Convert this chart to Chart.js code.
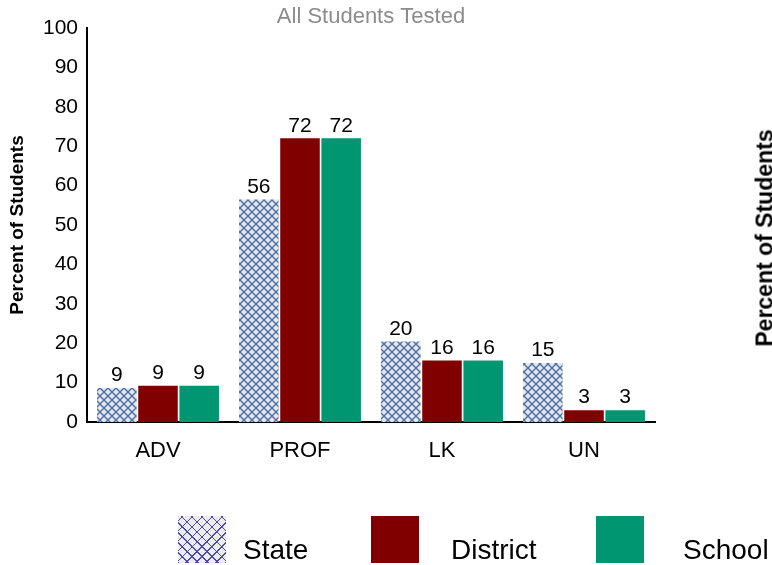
<!DOCTYPE html>
<html>
<head>
<meta charset="utf-8">
<script src="https://cdn.jsdelivr.net/npm/chart.js@4.4.1/dist/chart.umd.min.js"></script>
<style>
  body { margin: 0; overflow: hidden; background: #fff; font-family: "Liberation Sans", Arial, sans-serif; }
  #wrap { position: relative; width: 772px; height: 565px; overflow: hidden; }
  .lg-box { position: absolute; top: 516px; width: 48px; height: 47px; }
  .lg-text { position: absolute; top: 534px; line-height: 32px; font-size: 28px; color: #000; white-space: nowrap; }
  .hatch {
    background-color: #ececf0;
    background-image:
      repeating-linear-gradient(45deg, #4848b0 0 1px, transparent 1px 7px),
      repeating-linear-gradient(-45deg, #4848b0 0 1px, transparent 1px 7px);
  }
  #sideTitle {
    position: absolute; left: 765px; top: 238px;
    transform: translate(-50%, -50%) rotate(-90deg);
    font-weight: bold; font-size: 23px; white-space: nowrap; color: #000;
  }
</style>
</head>
<body>
<div id="wrap">
  <canvas id="myChart" width="772" height="565"></canvas>
  <div class="lg-box hatch" style="left:178px"></div>
  <div class="lg-text" style="left:243px">State</div>
  <div class="lg-box" style="left:371px; background:#800000"></div>
  <div class="lg-text" style="left:451px">District</div>
  <div class="lg-box" style="left:596px; background:#009672"></div>
  <div class="lg-text" style="left:683px">School</div>
  <div id="sideTitle">Percent of Students</div>
</div>
<script>
// datos
const categories = ['ADV', 'PROF', 'LK', 'UN'];
const stateValues = [8.6, 56.5, 20.4, 15];
const districtValues = [9.2, 72, 15.6, 3];
const schoolValues = [9.2, 72, 15.6, 3];
const stateLabels = ['9', '56', '20', '15'];
const districtLabels = ['9', '72', '16', '3'];
const schoolLabels = ['9', '72', '16', '3'];
const yTicks = [0, 10, 20, 30, 40, 50, 60, 70, 80, 90, 100];

// trama cruzada para la serie State
const makeHatch = () => {
    const c = document.createElement('canvas');
    c.width = 8;
    c.height = 8;
    const g = c.getContext('2d');
    g.fillStyle = '#e6e7ea';
    g.fillRect(0, 0, 8, 8);
    g.strokeStyle = '#4a70a8';
    g.lineWidth = 1.4;
    g.beginPath();
    g.moveTo(0, 0); g.lineTo(8, 8);
    g.moveTo(8, 0); g.lineTo(0, 8);
    g.stroke();
    return g.createPattern(c, 'repeat');
};

const fontFam = '"Liberation Sans", Arial, sans-serif';

// etiquetas sobre cada barra
const valueLabels = {
    id: 'valueLabels',
    afterDatasetsDraw(chart) {
        const ctx = chart.ctx;
        ctx.save();
        ctx.fillStyle = '#000';
        ctx.font = '21px ' + fontFam;
        ctx.textAlign = 'center';
        ctx.textBaseline = 'bottom';
        chart.data.datasets.forEach((ds, i) => {
            chart.getDatasetMeta(i).data.forEach((bar, j) => {
                ctx.fillText(ds.valueText[j], bar.x, bar.y - 2);
            });
        });
        ctx.restore();
    }
};

const ctx = document.getElementById('myChart').getContext('2d');
const myChart = new Chart(ctx, {
    type: 'bar',
    data: {
        labels: categories,
        datasets: [
            { label: 'State', data: stateValues, valueText: stateLabels, backgroundColor: makeHatch() },
            { label: 'District', data: districtValues, valueText: districtLabels, backgroundColor: '#800000' },
            { label: 'School', data: schoolValues, valueText: schoolLabels, backgroundColor: '#009672' }
        ]
    },
    options: {
        responsive: false,
        animation: false,
        layout: { padding: { left: 0, right: 117, top: 0, bottom: 0 } },
        categoryPercentage: 0.87,
        barPercentage: 0.96,
        plugins: {
            legend: { display: false },
            tooltip: { enabled: false },
            title: {
                display: true,
                text: 'All Students Tested',
                color: '#8c8c8c',
                fullSize: false,
                font: { family: fontFam, size: 22, weight: 'normal', lineHeight: 1 },
                padding: { top: 6, bottom: 0 }
            }
        },
        scales: {
            x: {
                grid: { display: false },
                border: { display: true, color: '#000', width: 2 },
                ticks: { color: '#000', font: { family: fontFam, size: 22 }, padding: 8 },
                afterFit: (scale) => { scale.height = 143; }
            },
            y: {
                min: 0,
                max: 100,
                afterBuildTicks: (scale) => { scale.ticks = yTicks.map(v => ({ value: v })); },
                grid: { display: false },
                border: { display: true, color: '#000', width: 2 },
                ticks: { color: '#000', font: { family: fontFam, size: 21 }, padding: 1 },
                title: {
                    display: true,
                    text: 'Percent of Students',
                    color: '#000',
                    font: { family: fontFam, size: 19, weight: 'bold' },
                    padding: { top: 6, bottom: 0 }
                },
                afterFit: (scale) => { scale.width = 87; }
            }
        }
    },
    plugins: [valueLabels]
});
</script>
</body>
</html>
